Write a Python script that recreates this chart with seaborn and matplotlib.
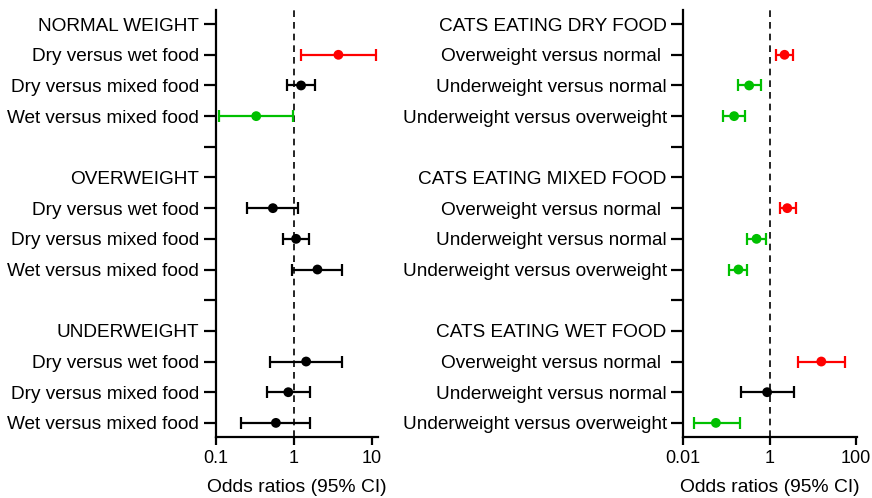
import numpy as np
import pandas as pd
import matplotlib
matplotlib.use("Agg")
import matplotlib.pyplot as plt
import seaborn as sns

# Left panel: comparisons between diets within each body-condition group
left_labels = ["NORMAL WEIGHT", "Dry versus wet food", "Dry versus mixed food", "Wet versus mixed food", "",
               "OVERWEIGHT", "Dry versus wet food", "Dry versus mixed food", "Wet versus mixed food", "",
               "UNDERWEIGHT", "Dry versus wet food", "Dry versus mixed food", "Wet versus mixed food"]
left_rows = [1, 2, 3, 6, 7, 8, 11, 12, 13]
left_or = [3.73, 1.24, 0.33, 0.54, 1.07, 2.01, 1.44, 0.85, 0.59]
left_lo = [1.24, 0.82, 0.111, 0.254, 0.72, 0.96, 0.50, 0.45, 0.21]
left_hi = [11.2, 1.88, 0.98, 1.14, 1.58, 4.2, 4.2, 1.6, 1.6]
left_sig = ["up", "ns", "down", "ns", "ns", "ns", "ns", "ns", "ns"]

# Right panel: comparisons between body-condition groups within each diet
right_labels = ["CATS EATING DRY FOOD", "Overweight versus normal ", "Underweight versus normal",
                "Underweight versus overweight", "",
                "CATS EATING MIXED FOOD", "Overweight versus normal ", "Underweight versus normal",
                "Underweight versus overweight", "",
                "CATS EATING WET FOOD", "Overweight versus normal ", "Underweight versus normal",
                "Underweight versus overweight"]
right_rows = [1, 2, 3, 6, 7, 8, 11, 12, 13]
right_or = [2.23, 0.337, 0.151, 2.58, 0.50, 0.19, 15.9, 0.88, 0.057]
right_lo = [1.45, 0.187, 0.082, 1.74, 0.308, 0.117, 4.57, 0.22, 0.018]
right_hi = [3.56, 0.62, 0.277, 4.02, 0.81, 0.308, 56.6, 3.75, 0.208]
right_sig = ["up", "down", "down", "up", "down", "down", "up", "ns", "down"]

palette = {"up": "#ff0000", "down": "#00c000", "ns": "#000000"}

sns.set_theme(style="white")
plt.rcParams["font.family"] = ["Liberation Sans", "DejaVu Sans"]
plt.rcParams["axes.edgecolor"] = "black"
plt.rcParams["text.color"] = "black"
plt.rcParams["axes.labelcolor"] = "black"
plt.rcParams["xtick.color"] = "black"
plt.rcParams["ytick.color"] = "black"

fig = plt.figure(figsize=(8.72, 4.98), dpi=100)
ax_l = fig.add_axes([0.2474, 0.1219, 0.1861, 0.8580])
ax_r = fig.add_axes([0.7836, 0.1219, 0.1988, 0.8580])


def forest(ax, labels, rows, ors, los, his, sig, xlim, xticks, xticklabels):
    df = pd.DataFrame({"row": rows, "or": ors, "lo": los, "hi": his, "sig": sig})
    for _, r in df.iterrows():
        ax.errorbar(r["or"], r["row"],
                    xerr=[[r["or"] - r["lo"]], [r["hi"] - r["or"]]],
                    fmt="none", ecolor=palette[r["sig"]], elinewidth=1.6,
                    capsize=4.5, capthick=1.6, zorder=2)
    sns.scatterplot(data=df, x="or", y="row", hue="sig", palette=palette,
                    s=50, edgecolor="none", legend=False, ax=ax, zorder=3)
    ax.set_xscale("log")
    ax.axvline(1, color="black", linestyle=(0, (4, 3)), linewidth=1.2, zorder=1)
    ax.set_xlim(*xlim)
    ax.set_ylim(13.47, -0.46)
    ax.set_yticks(range(len(labels)))
    ax.set_yticklabels(labels, fontsize=13.7)
    ax.set_xticks(xticks)
    ax.set_xticklabels(xticklabels, fontsize=13)
    ax.xaxis.set_minor_locator(matplotlib.ticker.NullLocator())
    ax.set_xlabel("Odds ratios (95% CI)", fontsize=13.9, labelpad=9)
    ax.set_ylabel("")
    sns.despine(ax=ax)
    for s in ("left", "bottom"):
        ax.spines[s].set_linewidth(1.6)
    ax.tick_params(axis="y", left=True, length=9, width=1.6, pad=3)
    ax.tick_params(axis="x", bottom=True, length=6, width=1.6, pad=3)
    ax.grid(False)


forest(ax_l, left_labels, left_rows, left_or, left_lo, left_hi, left_sig,
       (0.1, 12.0), [0.1, 1, 10], ["0.1", "1", "10"])
forest(ax_r, right_labels, right_rows, right_or, right_lo, right_hi, right_sig,
       (0.01, 105), [0.01, 1, 100], ["0.01", "1", "100"])

fig.savefig("out.png", dpi=100)
